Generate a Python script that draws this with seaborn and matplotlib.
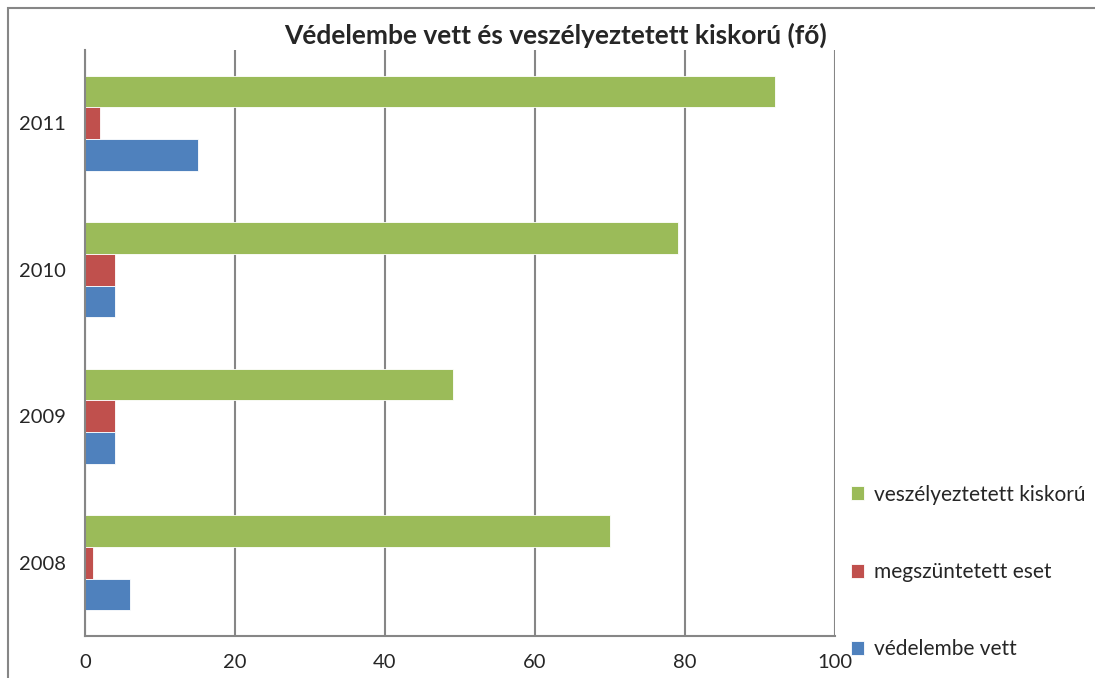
import pandas as pd
import numpy as np
import matplotlib.pyplot as plt
import seaborn as sns
from matplotlib.patches import Rectangle

# Data
years = ['2011', '2010', '2009', '2008']
veszelyeztetett = [92, 79, 49, 70]
megszuntetett = [2, 4, 4, 1]
vedelembe = [15, 4, 4, 6]
series_names = ['veszélyeztetett kiskorú', 'megszüntetett eset', 'védelembe vett']
colors = ['#9BBB59', '#C0504D', '#4F81BD']

rows = []
for name, vals in zip(series_names, [veszelyeztetett, megszuntetett, vedelembe]):
    for y, v in zip(years, vals):
        rows.append({'év': y, 'sorozat': name, 'fő': v})
df = pd.DataFrame(rows)

sns.set_style('white')
plt.rcParams['font.family'] = ['Lato', 'DejaVu Sans']

fig = plt.figure(figsize=(10.95, 6.78), dpi=100)
ax = fig.add_axes([85 / 1095, 42 / 678, 750 / 1095, 586 / 678])

sns.barplot(data=df, y='év', x='fő', hue='sorozat', order=years, hue_order=series_names,
            palette=colors, saturation=1, orient='h', width=0.65, ax=ax, legend=True,
            edgecolor='white', linewidth=0.6)

ax.set_xlim(0, 100)
ax.set_ylim(3.5, -0.5)
ax.set_xticks(np.arange(0, 101, 20))
ax.xaxis.grid(True, color='#868686', linewidth=1.5)
ax.set_axisbelow(True)
ax.set_xlabel('')
ax.set_ylabel('')

for s in ['top', 'right']:
    ax.spines[s].set_visible(False)
for s in ['left', 'bottom']:
    ax.spines[s].set_color('#868686')
    ax.spines[s].set_linewidth(1.5)

ax.tick_params(axis='x', length=5, width=1.5, color='#868686', labelsize=14.5, pad=8)
ax.tick_params(axis='y', which='major', length=0, labelsize=14.5, pad=14)
ax.set_yticks(np.arange(-0.5, 4.0, 1.0), minor=True)
ax.tick_params(axis='y', which='minor', length=5, width=1.5, color='#868686')

fig.text(556 / 1095, 1 - 35 / 678, 'Védelembe vett és veszélyeztetett kiskorú (fő)',
         fontsize=19, fontweight='bold', ha='center', va='center')

handles, labels = ax.get_legend_handles_labels()
ax.legend(handles, labels, loc='center left', bbox_to_anchor=(832 / 1095, (678 - 572) / 678),
          bbox_transform=fig.transFigure, frameon=False, fontsize=15,
          handlelength=0.65, handleheight=0.65, handletextpad=0.45, labelspacing=2.75)

# outer chart border
fig.patches.append(Rectangle((8 / 1095, -0.05), 1.1, 1 - 8 / 678 + 0.05, transform=fig.transFigure,
                             fill=False, edgecolor='#868686', linewidth=1.5))

fig.savefig('out.png', dpi=100)
